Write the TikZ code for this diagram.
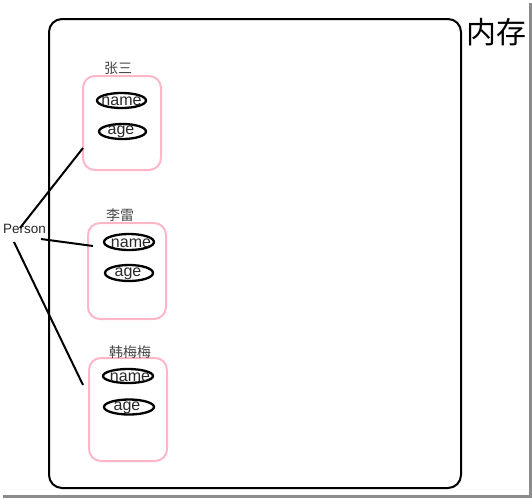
\documentclass[tikz,border=0pt]{standalone}
\usepackage{fontspec}
\setmainfont{Liberation Sans}
\newfontfamily\cjk{Noto Sans CJK SC}
\begin{document}
\begin{tikzpicture}[x=1pt,y=-1pt,
  mem/.style={draw=black,line width=2pt,rounded corners=13pt},
  obj/.style={draw={rgb,255:red,255;green,182;blue,200},line width=2pt,rounded corners=12pt},
  field/.style={inner sep=0pt,font=\fontsize{16}{16}\selectfont,text={rgb,255:red,40;green,40;blue,40}},
  oval/.style={draw=black,line width=2.3pt},
  cname/.style={inner sep=0pt,font=\cjk\fontsize{14}{14}\selectfont,text={rgb,255:red,70;green,70;blue,70}},
  link/.style={draw=black,line width=2pt},
  shadow/.style={draw={rgb,255:red,140;green,140;blue,140},line width=3pt}]
\useasboundingbox (0,0) rectangle (532,498);
% screenshot shadow
\draw[shadow] (530,3) -- (530,496) -- (3,496);
% memory box
\draw[mem] (49,19) rectangle (461,488);
\node[font=\cjk\fontsize{30}{30}\selectfont,inner sep=0pt] (mem) at (496,32) {内存};
% object 1
\draw[obj] (83,76) rectangle (161,170);
\node[cname] (l1) at (118,68) {张三};
\draw[oval] (121.5,100.5) ellipse (24.5 and 7.5);
\node[field] (n1) at (121.5,101.5) {name};
\draw[oval] (122.5,131.5) ellipse (23.5 and 7.5);
\node[field] (a1) at (121,132) {age};
% object 2
\draw[obj] (88,223) rectangle (166,319);
\node[cname] (l2) at (120,215) {李雷};
\draw[oval] (129,242) ellipse (25 and 8);
\node[field] (n2) at (131,243) {name};
\draw[oval] (129,273) ellipse (24 and 8);
\node[field] (a2) at (128,274) {age};
% object 3
\draw[obj] (89,358) rectangle (167,461);
\node[cname] (l3) at (130,352) {韩梅梅};
\draw[oval] (128,376) ellipse (25 and 7);
\node[field] (n3) at (130,377) {name};
\draw[oval] (129,407) ellipse (25 and 7.5);
\node[field] (a3) at (127,408) {age};
% Person
\node[font=\fontsize{13.5}{13.5}\selectfont,inner sep=0pt,text={rgb,255:red,40;green,40;blue,40}] (p) at (24.5,229) {Person};
\coordinate (s1) at (20,228);
\coordinate (e1) at (83,148);
\coordinate (s2) at (41,239);
\coordinate (e2) at (93,246);
\coordinate (s3) at (14,242);
\coordinate (e3) at (83,385);
\draw[link] (s1) -- (e1);
\draw[link] (s2) -- (e2);
\draw[link] (s3) -- (e3);
\end{tikzpicture}
\end{document}
